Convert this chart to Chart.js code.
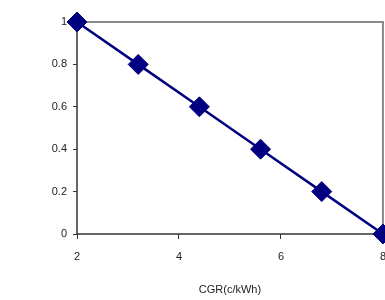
<!DOCTYPE html>
<html lang="en">
<head>
    <meta charset="UTF-8">
    <script src="https://cdn.jsdelivr.net/npm/chart.js@4.4.1/dist/chart.umd.min.js"></script>
    <title>CGR</title>
    <style>
        html, body { margin: 0; padding: 0; background: #fff; overflow: hidden; }
        #wrap { position: relative; width: 397px; height: 300px; }
    </style>
</head>
<body>
    <div id="wrap"><canvas id="cgrChart"></canvas></div>
    <script>
        // values
        const cgrValues = [2, 3.2, 4.4, 5.6, 6.8, 8];
        const shareValues = [1, 0.8, 0.6, 0.4, 0.2, 0];
        const xTicks = [2, 4, 6, 8];
        const yTicks = [0, 0.2, 0.4, 0.6, 0.8, 1];
        const xTitle = 'CGR(c/kWh)';

        const points = cgrValues.map((x, i) => ({ x: x, y: shareValues[i] }));

        // grey frame on top and right, dark axis lines left and bottom
        const framePlugin = {
            id: 'frame',
            beforeDatasetsDraw(chart) {
                const a = chart.chartArea;
                const ctx = chart.ctx;
                ctx.save();
                ctx.strokeStyle = '#8a8a8a';
                ctx.lineWidth = 2;
                ctx.beginPath();
                ctx.moveTo(a.left, a.top);
                ctx.lineTo(a.right, a.top);
                ctx.lineTo(a.right, a.bottom);
                ctx.stroke();
                ctx.strokeStyle = '#333';
                ctx.lineWidth = 1.5;
                ctx.beginPath();
                ctx.moveTo(a.left, a.top);
                ctx.lineTo(a.left, a.bottom);
                ctx.lineTo(a.right, a.bottom);
                ctx.stroke();
                ctx.restore();
            }
        };

        const tickFont = { family: 'Liberation Sans, Arial, sans-serif', size: 11 };

        new Chart(document.getElementById('cgrChart'), {
            type: 'scatter',
            data: {
                datasets: [{
                    data: points,
                    showLine: true,
                    borderColor: '#000080',
                    backgroundColor: '#000080',
                    borderWidth: 2.5,
                    pointStyle: 'rectRot',
                    pointRadius: 10,
                    pointHoverRadius: 10,
                    pointBorderWidth: 1,
                    clip: false
                }]
            },
            options: {
                responsive: true,
                maintainAspectRatio: false,
                animation: false,
                events: [],
                layout: { padding: { top: 22, left: 0, right: 0, bottom: 0 } },
                plugins: { legend: { display: false }, tooltip: { enabled: false } },
                scales: {
                    x: {
                        type: 'linear',
                        min: xTicks[0],
                        max: xTicks[xTicks.length - 1],
                        afterBuildTicks: s => { s.ticks = xTicks.map(v => ({ value: v })); },
                        afterFit: s => { s.height = 66; },
                        grid: { display: true, drawOnChartArea: false, color: '#333', tickLength: 5, tickWidth: 1 },
                        border: { display: false },
                        ticks: { color: '#222', font: tickFont, padding: 11, maxRotation: 0, callback: v => String(v) },
                        title: { display: true, text: xTitle, color: '#222', font: tickFont, padding: { top: 0, bottom: 3 } }
                    },
                    y: {
                        type: 'linear',
                        min: 0,
                        max: 1,
                        afterBuildTicks: s => { s.ticks = yTicks.map(v => ({ value: v })); },
                        afterFit: s => { s.width = 77; },
                        grid: { display: true, drawOnChartArea: false, color: '#333', tickLength: 4, tickWidth: 1 },
                        border: { display: false },
                        ticks: { color: '#222', font: tickFont, padding: 6, callback: v => String(Math.round(v * 10) / 10) }
                    }
                }
            },
            plugins: [framePlugin]
        });
    </script>
</body>
</html>
